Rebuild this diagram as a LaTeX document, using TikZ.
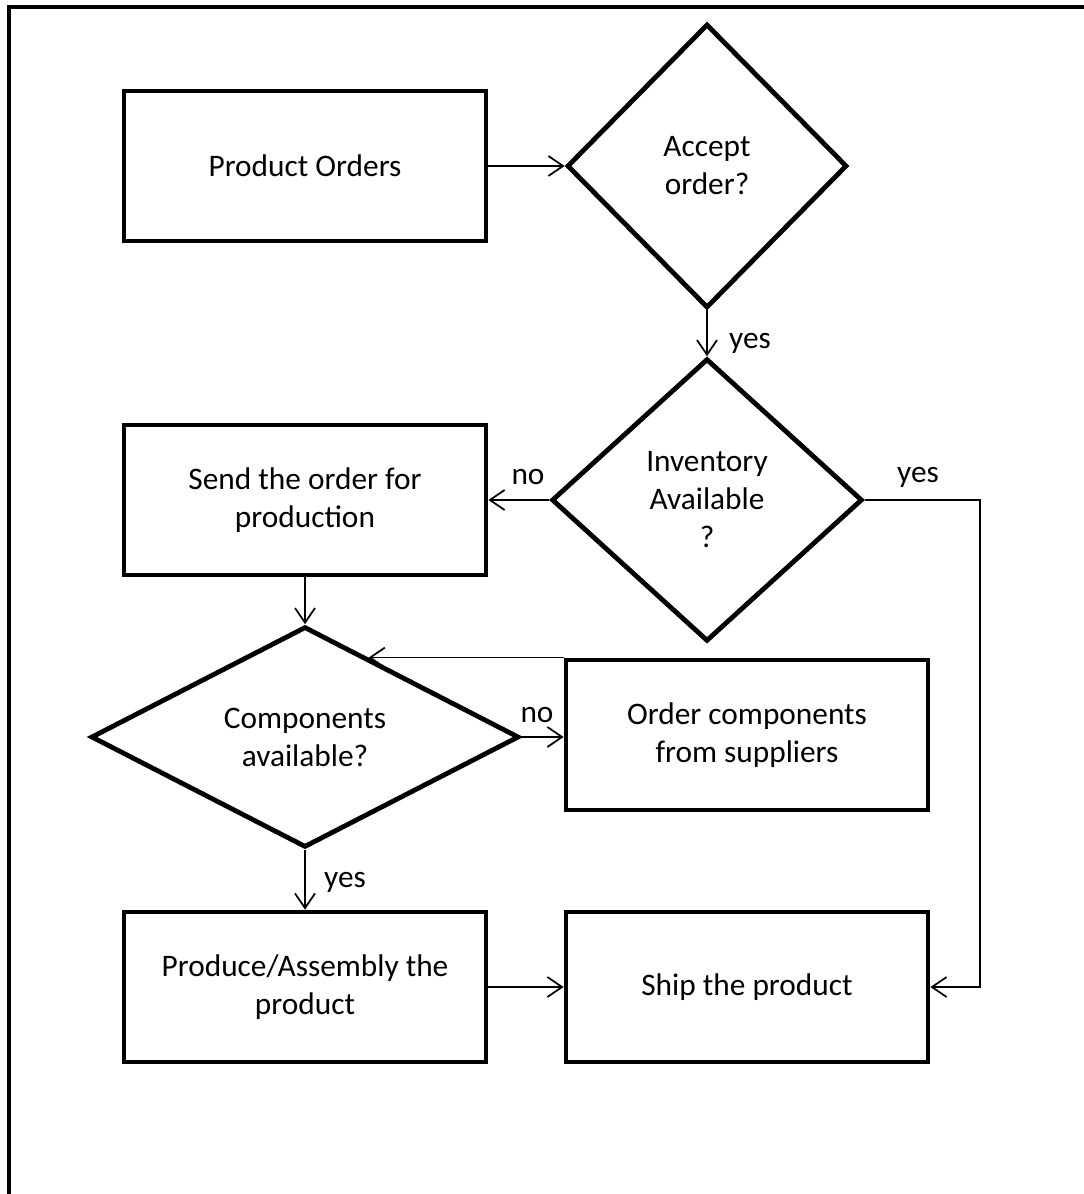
\documentclass[tikz,border=0pt]{standalone}
\usepackage{fontspec}
\setmainfont{Carlito}
\usetikzlibrary{shapes.geometric,arrows.meta,calc}
\begin{document}
\begin{tikzpicture}[x=0.75pt,y=-0.75pt,
  every node/.style={font=\fontsize{23.5}{28.5}\selectfont},
  procbox/.style={draw,line width=3.6pt,minimum width=271.5pt,minimum height=112.5pt,inner sep=0pt,align=center},
  decision/.style={draw,diamond,line width=3.6pt,inner sep=0pt,align=center},
  arr/.style={line width=1.3pt,-{Straight Barb[length=11pt,width=15pt,line width=1.3pt]}},
  lbl/.style={inner sep=0pt}]
\useasboundingbox (0,0) rectangle (1083,1194);
% outer frame (left and top edges)
\draw[line width=3.6pt] (9,1200) -- (9,7) -- (1090,7);

% process boxes
\node[procbox] (po)   at (305,166) {Product Orders};
\node[procbox] (send) at (305,500) {Send the order for\\production};
\node[procbox] (ord)  at (747,735) {Order components\\from suppliers};
\node[procbox] (prod) at (305,987) {Produce/Assembly the\\product};
\node[procbox] (ship) at (747,987) {Ship the product};

% decisions
\node[decision,minimum width=210pt,minimum height=213pt] (acc) at (707,166) {Accept\\order?};
\node[decision,minimum width=233pt,minimum height=212pt] (inv) at (707,500) {Inventory\\Available\\?};
\node[decision,minimum width=321pt,minimum height=163pt] (comp) at (305,737) {Components\\available?};

% connectors
\draw[arr] (po.east) -- (acc.west);
\draw[arr] (acc.south) -- (inv.north);
\draw[arr] (inv.west) -- (send.east);
\coordinate (rt) at (980,500);
\draw[arr] (inv.east) -- (rt) |- (ship.east);
\draw[arr] (send.south) -- (comp.north);
\draw[arr] (comp.east) -- (comp.east -| ord.west);
\coordinate (cedge) at ($(comp.north)!0.294!(comp.east)$);
\draw[arr] (ord.north west) -- (cedge |- ord.north west);
\draw[arr] (comp.south) -- (prod.north);
\draw[arr] (prod.east) -- (ship.west);

% branch labels
\node[lbl] at (750,343) {yes};
\node[lbl] at (528,477) {no};
\node[lbl] at (918,477) {yes};
\node[lbl] at (537,715) {no};
\node[lbl] at (345,882) {yes};
\end{tikzpicture}
\end{document}
